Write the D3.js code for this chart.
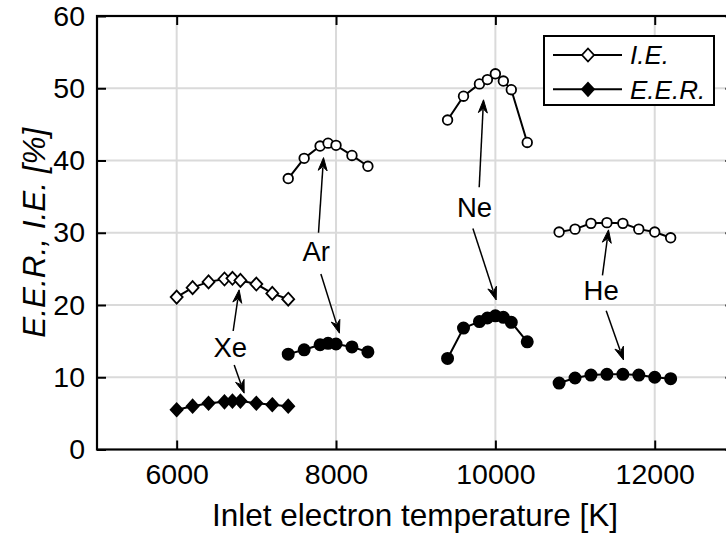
<!DOCTYPE html>
<html><head><meta charset="utf-8">
<script src="https://cdn.jsdelivr.net/npm/d3@7"></script>
<style>
html,body{margin:0;padding:0;background:#fff;}
svg{display:block;}
text{font-family:"Liberation Sans",Arial,sans-serif;}
</style></head>
<body>
<script>
// ---- data ----
const xeT = [6000,6200,6400,6600,6700,6800,7000,7200,7400];
const xeIE = [21.1,22.4,23.2,23.6,23.7,23.4,22.9,21.6,20.8];
const xeEER = [5.5,6.0,6.4,6.6,6.7,6.7,6.4,6.2,6.0];
const arT = [7400,7600,7800,7900,8000,8200,8400];
const arIE = [37.5,40.3,42.0,42.4,42.1,40.7,39.2];
const arEER = [13.2,13.8,14.5,14.7,14.6,14.2,13.5];
const neT = [9400,9600,9800,9900,10000,10100,10200,10400];
const neIE = [45.6,48.9,50.6,51.2,52.0,51.0,49.8,42.5];
const neEER = [12.6,16.8,17.7,18.2,18.5,18.3,17.6,14.9];
const heT = [10800,11000,11200,11400,11600,11800,12000,12200];
const heIE = [30.1,30.5,31.3,31.4,31.3,30.5,30.1,29.3];
const heEER = [9.2,9.9,10.3,10.4,10.4,10.3,10.0,9.8];
const xTicks = [6000,8000,10000,12000];
const yTicks = [0,10,20,30,40,50,60];
const legendLabels = ["I.E.","E.E.R."];
// annotations: label, text position, arrow up (start,end), arrow down (start,end) in data units
const annoLabels = ["Xe","Ar","Ne","He"];
const annoText = [[6672,14.2],[7751,27.4],[9738,33.6],[11328,22.06]];
const annoUp = [[[6709,16.4],[6784,22.1]],[[7780,30.0],[7843,40.4]],[[9797,36.3],[9851,48.4]],[[11344,24.1],[11420,30.4]]];
const annoDown = [[[6722,11.7],[6847,7.8]],[[7810,24.3],[8043,16.1]],[[9718,30.6],[10010,20.7]],[[11391,19.2],[11608,12.4]]];

const W=726,H=538;
const L=97, R=734.4, T=16, B=449.5;
const x = d3.scaleLinear().domain([5000,13000]).range([L,R]);
const y = d3.scaleLinear().domain([0,60]).range([B,T]);

const svg = d3.select("body").append("svg").attr("width",W).attr("height",H);
svg.append("defs").append("clipPath").attr("id","clip")
  .append("rect").attr("x",L).attr("y",T).attr("width",R-L).attr("height",B-T);

// grid
const grid = svg.append("g");
xTicks.forEach(t=>grid.append("line").attr("x1",x(t)).attr("x2",x(t)).attr("y1",T).attr("y2",B)
  .attr("stroke","#dadada").attr("stroke-width",2));
yTicks.filter(t=>t>0&&t<60).forEach(t=>grid.append("line").attr("x1",L).attr("x2",R).attr("y1",y(t)).attr("y2",y(t))
  .attr("stroke","#dadada").attr("stroke-width",2));

// axes via d3
const tl=9, tickFont=28.5;
svg.append("g").attr("transform",`translate(0,${B})`)
  .call(d3.axisBottom(x).tickValues(xTicks).tickFormat(d3.format("d")).tickSizeInner(-tl).tickSizeOuter(0).tickPadding(14))
  .call(g=>{g.select(".domain").remove();g.selectAll("line").attr("stroke","#000").attr("stroke-width",2);
    g.selectAll("text").attr("font-size",tickFont).attr("fill","#000").attr("font-family","Liberation Sans, Arial, sans-serif");});
svg.append("g").attr("transform",`translate(0,${T})`)
  .call(d3.axisTop(x).tickValues(xTicks).tickFormat("").tickSizeInner(-tl).tickSizeOuter(0))
  .call(g=>{g.select(".domain").remove();g.selectAll("line").attr("stroke","#000").attr("stroke-width",2);});
svg.append("g").attr("transform",`translate(${L},0)`)
  .call(d3.axisLeft(y).tickValues(yTicks).tickFormat(d3.format("d")).tickSizeInner(-tl).tickSizeOuter(0).tickPadding(12))
  .call(g=>{g.select(".domain").remove();g.selectAll("line").attr("stroke","#000").attr("stroke-width",2);
    g.selectAll("text").attr("font-size",tickFont).attr("fill","#000").attr("font-family","Liberation Sans, Arial, sans-serif");});
svg.append("g").attr("transform",`translate(${R},0)`)
  .call(d3.axisRight(y).tickValues(yTicks).tickFormat("").tickSizeInner(-tl).tickSizeOuter(0))
  .call(g=>{g.select(".domain").remove();g.selectAll("line").attr("stroke","#000").attr("stroke-width",2);});

// frame
svg.append("rect").attr("x",L).attr("y",T).attr("width",R-L).attr("height",B-T)
  .attr("fill","none").attr("stroke","#000").attr("stroke-width",2.2);

// series
const line = d3.line().x(d=>x(d[0])).y(d=>y(d[1]));
const diamond = (g,cx,cy,fill)=>g.append("path")
  .attr("d",`M${cx},${cy-6.5}L${cx+6},${cy}L${cx},${cy+6.5}L${cx-6},${cy}Z`)
  .attr("fill",fill).attr("stroke","#000").attr("stroke-width",1.8);
const circle = (g,cx,cy,fill)=>g.append("circle").attr("cx",cx).attr("cy",cy).attr("r",fill==="#fff"?4.8:5.6)
  .attr("fill",fill).attr("stroke","#000").attr("stroke-width",1.8);

const series = [
  {t:xeT,v:xeIE,m:"d",f:"#fff"},{t:xeT,v:xeEER,m:"d",f:"#000"},
  {t:arT,v:arIE,m:"c",f:"#fff"},{t:arT,v:arEER,m:"c",f:"#000"},
  {t:neT,v:neIE,m:"c",f:"#fff"},{t:neT,v:neEER,m:"c",f:"#000"},
  {t:heT,v:heIE,m:"c",f:"#fff"},{t:heT,v:heEER,m:"c",f:"#000"}];
const sg = svg.append("g").attr("clip-path","url(#clip)");
series.forEach(s=>{
  const pts = s.t.map((t,i)=>[t,s.v[i]]);
  sg.append("path").attr("d",line(pts)).attr("fill","none").attr("stroke","#000").attr("stroke-width",2);
  pts.forEach(p=>{ if(s.m==="d") diamond(sg,x(p[0]),y(p[1]),s.f); else circle(sg,x(p[0]),y(p[1]),s.f); });
});

// annotations
function arrow(g,a){
  const x1=x(a[0][0]),y1=y(a[0][1]),x2=x(a[1][0]),y2=y(a[1][1]);
  const ang=Math.atan2(y2-y1,x2-x1);
  const hl=13, hw=4.5, back=9;
  const bx=x2-hl*Math.cos(ang), by=y2-hl*Math.sin(ang);
  g.append("line").attr("x1",x1).attr("y1",y1).attr("x2",bx+3*Math.cos(ang)).attr("y2",by+3*Math.sin(ang))
    .attr("stroke","#000").attr("stroke-width",1.5);
  const px=-Math.sin(ang), py=Math.cos(ang);
  const nx=x2-back*Math.cos(ang), ny=y2-back*Math.sin(ang);
  g.append("path").attr("d",`M${x2},${y2}L${bx+hw*px},${by+hw*py}L${nx},${ny}L${bx-hw*px},${by-hw*py}Z`)
    .attr("fill","#000").attr("stroke","#000").attr("stroke-width",1);
}
const ag = svg.append("g");
annoLabels.forEach((lab,i)=>{
  ag.append("text").attr("x",x(annoText[i][0])).attr("y",y(annoText[i][1])).attr("dy","0.36em")
    .attr("text-anchor","middle").attr("font-size",27.5).attr("fill","#000").text(lab);
  arrow(ag,annoUp[i]); arrow(ag,annoDown[i]);
});

// legend
const lg = svg.append("g");
lg.append("rect").attr("x",544).attr("y",36).attr("width",170).attr("height",69)
  .attr("fill","#fff").attr("stroke","#000").attr("stroke-width",2);
legendLabels.forEach((lab,i)=>{
  const yy = 55 + i*34.3;
  lg.append("line").attr("x1",553).attr("x2",622).attr("y1",yy).attr("y2",yy).attr("stroke","#000").attr("stroke-width",2);
  diamond(lg,588,yy,i===0?"#fff":"#000");
  lg.append("text").attr("x",630).attr("y",yy).attr("dy","0.36em").attr("font-size",26)
    .attr("font-style","italic").attr("fill","#000").text(lab);
});

// axis labels
svg.append("text").attr("x",415).attr("y",525.5).attr("text-anchor","middle")
  .attr("font-size",31.5).attr("fill","#000").text("Inlet electron temperature [K]");
svg.append("text").attr("transform",`translate(45,${(T+B)/2}) rotate(-90)`).attr("text-anchor","middle")
  .attr("font-size",31.5).attr("font-style","italic").attr("fill","#000").text("E.E.R., I.E. [%]");
</script>
</body></html>
